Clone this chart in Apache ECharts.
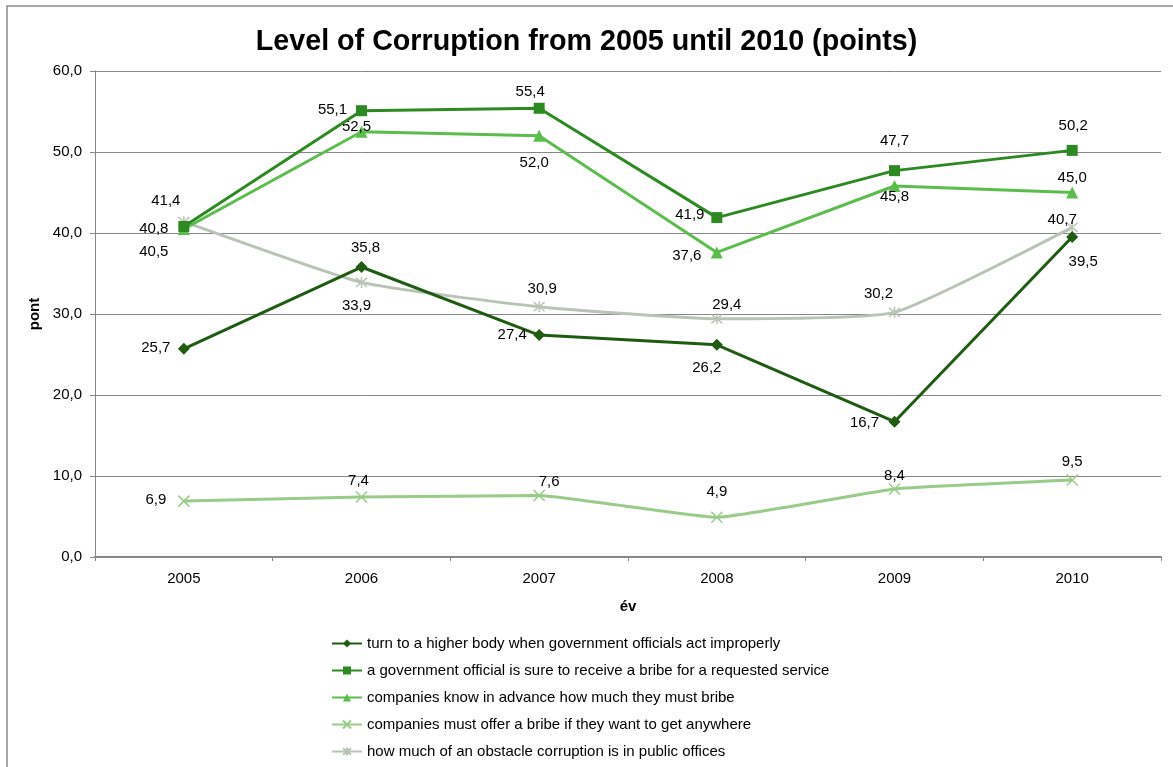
<!DOCTYPE html>
<html>
<head>
<meta charset="utf-8">
<script src="https://cdn.jsdelivr.net/npm/echarts@6/dist/echarts.min.js"></script>
<style>html,body{margin:0;padding:0;background:#fff}#c{width:1173px;height:767px}</style>
</head>
<body>
<div id="c"></div>
<script>
const years = ['2005','2006','2007','2008','2009','2010'];
const seriesNames = [
  'turn to a higher body when government officials act improperly',
  'a government official is sure to receive a bribe for a requested service',
  'companies know in advance how much they must bribe',
  'companies must offer a bribe if they want to get anywhere',
  'how much of an obstacle corruption is in public offices'
];
const higherBody = [25.7, 35.8, 27.4, 26.2, 16.7, 39.5];
const sureBribe = [40.8, 55.1, 55.4, 41.9, 47.7, 50.2];
const knowAdvance = [40.5, 52.5, 52.0, 37.6, 45.8, 45.0];
const mustOffer = [6.9, 7.4, 7.6, 4.9, 8.4, 9.5];
const obstacle = [41.4, 33.9, 30.9, 29.4, 30.2, 40.7];
const yTicks = [0, 10, 20, 30, 40, 50, 60];

// label offsets from the marker centre (style only)
const labelOffsets = [
  [[-28,-1],[4,-19],[-27,0],[-10,23],[-30,1],[11,25]],
  [[-30,2],[-29,-1],[-9,-16],[-27,-3],[0,-30],[1,-25]],
  [[-30,23],[-5,-5],[-5,27],[-30,3],[0,11],[0,-15]],
  [[-28,-1],[-3,-16],[10,-14],[0,-25],[0,-13],[0,-18]],
  [[-18,-21],[-5,23],[3,-18],[10,-14],[-16,-19],[-10,-7]]
];

const colors = ['#1f5c12', '#2d8a22', '#5bbd4c', '#98cc88', '#b9c3b6'];
const symbols = [
  'diamond',
  'rect',
  'triangle',
  'path://M0,0L10,10M10,0L0,10',
  'path://M0,0L10,10M10,0L0,10M5,-1L5,11'
];
const symbolSizes = [12, 11, 12, 11, 11];
const smooths = [false, false, false, 0.1, 0.15];
const allData = [higherBody, sureBribe, knowAdvance, mustOffer, obstacle];

const fmt = v => v.toFixed(1).replace('.', ',');
const FONT = 'Liberation Sans, Arial, sans-serif';

const series = allData.map((arr, si) => ({
  name: seriesNames[si],
  type: 'line',
  smooth: smooths[si],
  symbol: symbols[si],
  symbolSize: symbolSizes[si],
  showAllSymbol: true,
  z: 10 - si,
  lineStyle: { color: colors[si], width: 3 },
  itemStyle: { color: colors[si], borderColor: colors[si], borderWidth: si >= 3 ? 1.5 : 0 },
  data: arr.map((v, i) => ({
    value: v,
    label: { offset: labelOffsets[si][i] }
  })),
  label: {
    show: true,
    position: 'inside',
    color: '#000',
    fontFamily: FONT,
    fontSize: 15,
    formatter: p => fmt(p.value)
  }
}));

const chart = echarts.init(document.getElementById('c'), null, { renderer: 'canvas' });
chart.setOption({
  animation: false,
  backgroundColor: '#fff',
  title: {
    text: 'Level of Corruption from 2005 until 2010 (points)',
    left: 'center',
    top: 23,
    textStyle: {
      fontFamily: FONT,
      fontWeight: 'bold',
      fontSize: 28.7,
      color: '#000'
    }
  },
  graphic: [{
    type: 'rect',
    shape: { x: 7, y: 6, width: 1200, height: 800 },
    style: { fill: 'none', stroke: '#8a8a8a', lineWidth: 1.5 },
    silent: true, z: -10
  }],
  grid: { left: 95, right: 12, top: 71, bottom: 210, containLabel: false },
  xAxis: {
    type: 'category',
    data: years,
    boundaryGap: true,
    name: 'év',
    nameLocation: 'middle',
    nameGap: 42,
    nameTextStyle: { fontFamily: FONT, fontWeight: 'bold', fontSize: 15, color: '#000' },
    axisLine: { lineStyle: { color: '#878787', width: 2 } },
    axisTick: { show: true, alignWithLabel: false, length: 4, lineStyle: { color: '#878787', width: 1 } },
    axisLabel: { margin: 14, fontFamily: FONT, fontSize: 15, color: '#000' }
  },
  yAxis: {
    type: 'value',
    min: yTicks[0],
    max: yTicks[yTicks.length - 1],
    interval: 10,
    name: 'pont',
    nameLocation: 'middle',
    nameRotate: 90,
    nameGap: 49,
    nameTextStyle: { fontFamily: FONT, fontWeight: 'bold', fontSize: 15, color: '#000' },
    axisLine: { show: true, lineStyle: { color: '#878787', width: 1 } },
    axisTick: { show: true, length: 5, lineStyle: { color: '#878787' } },
    axisLabel: { margin: 13, fontFamily: FONT, fontSize: 15, color: '#000', formatter: v => fmt(v) },
    splitLine: { show: true, lineStyle: { color: '#878787', width: 1 } }
  },
  legend: {
    orient: 'vertical',
    left: 326,
    top: 631,
    itemGap: 12,
    itemWidth: 30,
    itemHeight: 10,
    textStyle: { fontFamily: FONT, fontSize: 15, color: '#000' },
    data: seriesNames
  },
  series: series
});
</script>
</body>
</html>
